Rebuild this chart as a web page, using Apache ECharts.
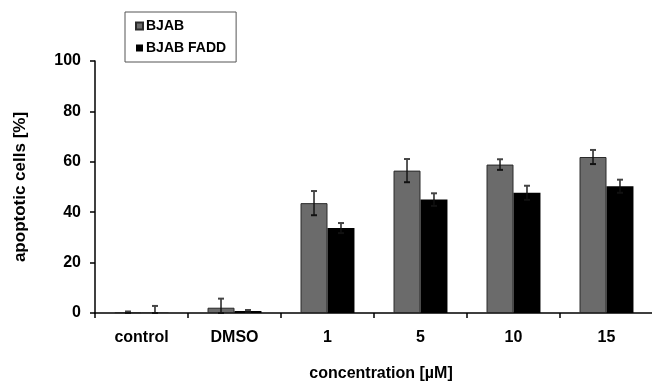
<!DOCTYPE html>
<html>
<head>
<meta charset="utf-8">
<script src="https://cdn.jsdelivr.net/npm/echarts@6/dist/echarts.min.js"></script>
<style>
  html, body { margin: 0; padding: 0; background: #fff; }
  #chart { width: 652px; height: 381px; }
</style>
</head>
<body>
<div id="chart"></div>
<script>
// Apoptosis of BJAB vs. BJAB FADD cells across treatments
const categories = ['control', 'DMSO', '1', '5', '10', '15'];
const seriesNames = ['BJAB', 'BJAB FADD'];
const bjab = [0.3, 2.1, 43.6, 56.5, 58.9, 61.9];
const bjabErr = [0.3, 3.6, 4.8, 4.6, 2.1, 2.8];
const fadd = [0.1, 0.8, 33.7, 45.0, 47.7, 50.3];
const faddErr = [2.7, 0.4, 2.0, 2.5, 2.8, 2.6];
const yTicks = [0, 20, 40, 60, 80, 100];

const FONT = '"Liberation Sans", Arial, Helvetica, sans-serif';
const CAT_GAP = 0.42;   // fraction of category width left empty
const COLORS = ['#6b6b6b', '#000000'];

// Whiskers drawn at each bar's centre: offset = -1/+1 half bar widths
function errorSeries(values, errs, side) {
  return {
    type: 'custom',
    name: seriesNames[side < 0 ? 0 : 1] + ' err',
    z: 5,
    silent: true,
    data: values.map((v, i) => [i, v, errs[i]]),
    renderItem(params, api) {
      const idx = api.value(0);
      const v = api.value(1);
      const e = api.value(2);
      const catW = api.size([1, 0])[0];
      const barW = catW * (1 - CAT_GAP) / 2;
      const c = api.coord([idx, v]);
      const x = c[0] + side * barW / 2;
      const yHi = api.coord([idx, v + e])[1];
      const yLo = api.coord([idx, Math.max(0, v - e)])[1];
      const cap = 3;
      const style = { stroke: '#111', lineWidth: 1.4 };
      return {
        type: 'group',
        children: [
          { type: 'line', shape: { x1: x, y1: yHi, x2: x, y2: yLo }, style },
          { type: 'line', shape: { x1: x - cap, y1: yHi, x2: x + cap, y2: yHi }, style: { stroke: '#444', lineWidth: 2 } },
          { type: 'line', shape: { x1: x - cap, y1: yLo, x2: x + cap, y2: yLo }, style: { stroke: '#111', lineWidth: 2 } }
        ]
      };
    }
  };
}

const chart = echarts.init(document.getElementById('chart'), null, { renderer: 'canvas' });

chart.setOption({
  animation: false,
  backgroundColor: '#fff',
  textStyle: { fontFamily: FONT },
  grid: { left: 95, top: 61, right: -1, bottom: 68, containLabel: false, outerBoundsMode: 'none' },
  legend: {
    data: seriesNames,
    orient: 'vertical',
    left: 125,
    top: 12,
    width: 111,
    itemWidth: 7,
    itemHeight: 7,
    itemGap: 8,
    padding: [7, 10, 7, 10],
    borderColor: '#555',
    borderWidth: 1,
    icon: 'rect',
    textStyle: { fontFamily: FONT, fontWeight: 'bold', fontSize: 14, color: '#000', padding: [0, 0, 0, -2] }
  },
  xAxis: {
    type: 'category',
    data: categories,
    name: 'concentration [µM]',
    nameLocation: 'middle',
    nameGap: 53,
    nameTextStyle: { fontFamily: FONT, fontWeight: 'bold', fontSize: 16, color: '#000', padding: [0, 0, 0, 14] },
    axisLine: { lineStyle: { color: '#000', width: 1.5 } },
    axisTick: { show: true, length: 5, lineStyle: { color: '#000', width: 1.5 } },
    axisLabel: { fontFamily: FONT, fontWeight: 'bold', fontSize: 16, color: '#000', margin: 17 },
    splitLine: { show: false }
  },
  yAxis: {
    type: 'value',
    min: yTicks[0],
    max: yTicks[yTicks.length - 1],
    interval: yTicks[1] - yTicks[0],
    name: 'apoptotic cells [%]',
    nameLocation: 'middle',
    nameGap: 66,
    nameTextStyle: { fontFamily: FONT, fontWeight: 'bold', fontSize: 17, color: '#000' },
    axisLine: { show: true, lineStyle: { color: '#000', width: 1.5 } },
    axisTick: { show: true, length: 5, lineStyle: { color: '#000', width: 1.5 } },
    axisLabel: { fontFamily: FONT, fontWeight: 'bold', fontSize: 16, color: '#000', margin: 14 },
    splitLine: { show: false }
  },
  series: [
    {
      name: seriesNames[0],
      type: 'bar',
      data: bjab,
      barGap: '0%',
      barCategoryGap: (CAT_GAP * 100) + '%',
      itemStyle: { color: COLORS[0], borderColor: '#2a2a2a', borderWidth: 1 }
    },
    {
      name: seriesNames[1],
      type: 'bar',
      data: fadd,
      barGap: '0%',
      barCategoryGap: (CAT_GAP * 100) + '%',
      itemStyle: { color: COLORS[1], borderColor: '#000', borderWidth: 0 }
    },
    errorSeries(bjab, bjabErr, -1),
    errorSeries(fadd, faddErr, 1)
  ]
});
</script>
</body>
</html>
